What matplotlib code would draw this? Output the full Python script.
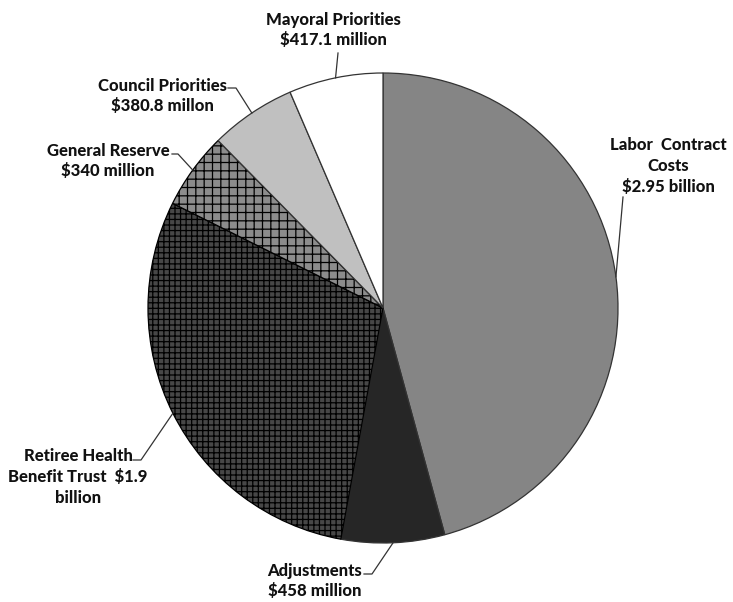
import numpy as np
import matplotlib
matplotlib.use("Agg")
import matplotlib.pyplot as plt

labels = ["Labor  Contract\nCosts\n$2.95 billion",
          "Adjustments\n$458 million",
          "Retiree Health\nBenefit Trust  $1.9\nbillion",
          "General Reserve\n$340 million",
          "Council Priorities\n$380.8 millon",
          "Mayoral Priorities\n$417.1 million"]
values = [2950, 458, 1900, 340, 380.8, 417.1]  # millions of dollars

colors = ["#858585", "#262626", "#474747", "#8c8c8c", "#c0c0c0", "#ffffff"]
hatches = [None, None, "+++", "++", None, None]

# label text centres (pixels) and where the leader leaves the text
text_px = [(668, 166), (315, 581), (78, 477), (108, 161), (162, 96), (333, 30)]
leader_px = [[(623, 197)],
             [(364, 574), (372, 574)],
             [(133, 460), (141, 460)],
             [(172, 154), (178, 154)],
             [(228, 88), (236, 88)],
             [(338, 53)]]

W, H = 733, 602
CX, CY, R = 383, 308, 235


def px(x, y):
    return (x - CX) / R, (CY - y) / R


plt.rcParams['font.family'] = ['Lato', 'DejaVu Sans']
plt.rcParams['hatch.linewidth'] = 0.9

fig = plt.figure(figsize=(W / 100, H / 100), dpi=100)
ax = fig.add_axes([0, 0, 1, 1])

wedges, _ = ax.pie(values, colors=colors, startangle=90, counterclock=False,
                   radius=1, wedgeprops=dict(edgecolor="#333333", linewidth=0.9))
for w, hch in zip(wedges, hatches):
    if hch:
        w.set_hatch(hch)
        w.set_edgecolor("black")

ax.set_xlim(-CX / R, (W - CX) / R)
ax.set_ylim(-(H - CY) / R, CY / R)
ax.set_aspect('equal')
ax.axis('off')

for w, lab, tp, lp in zip(wedges, labels, text_px, leader_px):
    mid = np.deg2rad((w.theta1 + w.theta2) / 2)
    ex, ey = np.cos(mid), np.sin(mid)
    pts = [px(*p) for p in lp] + [(ex, ey)]
    xs, ys = zip(*pts)
    ax.plot(xs, ys, color="#333333", lw=0.9)
    ax.text(*px(*tp), lab, ha='center', va='center', fontsize=12,
            fontweight='black', linespacing=1.35, color="#111111")

fig.savefig("out.png", dpi=100)
